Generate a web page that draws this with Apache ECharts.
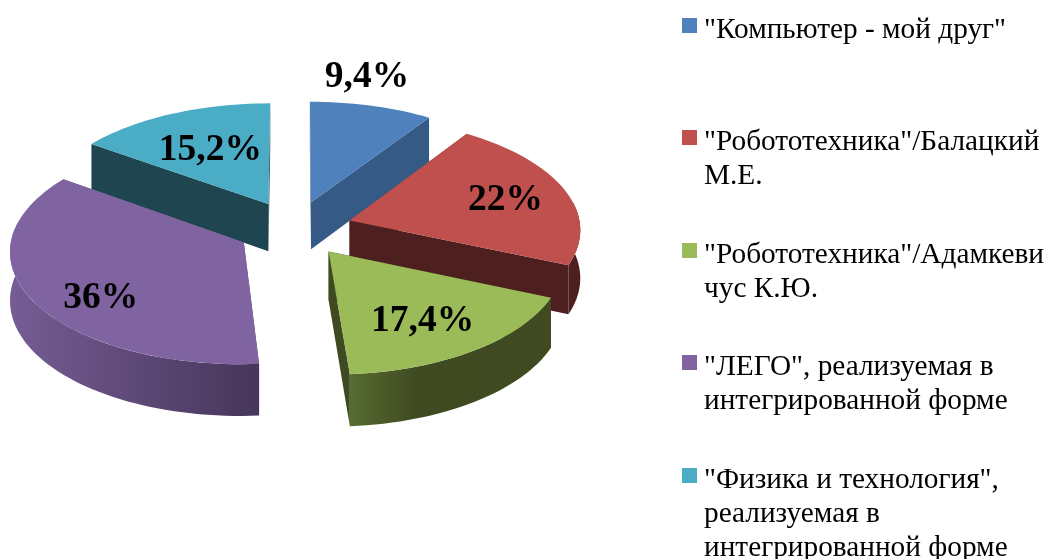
<!DOCTYPE html>
<html>
<head>
<meta charset="utf-8">
<style>
  html, body { margin: 0; padding: 0; background: #fff; }
  #chart { width: 1053px; height: 559px; }
</style>
<script src="https://cdn.jsdelivr.net/npm/echarts@6/dist/echarts.min.js"></script>
</head>
<body>
<div id="chart"></div>
<script>
const categories = [
  '"Компьютер - мой друг"',
  '"Робототехника"/Балацкий\nМ.Е.',
  '"Робототехника"/Адамкеви\nчус К.Ю.',
  '"ЛЕГО", реализуемая в\nинтегрированной форме',
  '"Физика и технология",\nреализуемая в\nинтегрированной форме'
];
const shares = [9.4, 22, 17.4, 36, 15.2];
const shareLabels = ['9,4%', '22%', '17,4%', '36%', '15,2%'];

const topColors = ['#4f81bd', '#c0504d', '#9bbb59', '#8064a2', '#4bacc6'];
const edgeColors = ['#355a85', '#4e1f1f', '#3f4a21', '#5a4676', '#1f4550'];
const wallStops = [
  ['#355a85', '#355a85'],
  ['#4e1f1f', '#4e1f1f'],
  ['#566b30', '#3f4a21', '#3f4a21', '#404a22'],
  ['#765c94', '#46365a'],
  ['#1f4550', '#1f4550']
];
// label position relative to the tip of its slice
const labelOffsets = [[56, -125], [156, -20], [94, 70], [-143, 56], [-58, -54]];
const legendIconCenters = [25.5, 137.5, 250.5, 362.5, 475.5];
const drawOrder = [4, 0, 1, 3, 2];

const cx = 294.5, cy = 228.5, rx = 231, ry = 112, persp = 0.07, depth = 48, explode = 0.25;
const lineH = 34;

const total = shares.reduce((a, b) => a + b, 0);
const starts = [];
shares.reduce((acc, v, i) => { starts[i] = acc; return acc + v / total * 360; }, 0);

// disc coords -> screen, near side (v > 0) comes out a bit bigger
function project(u, v, drop) {
  const s = 1 + persp * v;
  return [cx + rx * u * s, cy + ry * v * s + (drop || 0) * s];
}
function dir(deg) {
  const a = deg * Math.PI / 180;
  return [Math.sin(a), -Math.cos(a)];
}
function arc(i, from, to, drop) {
  const m = dir(starts[i] + shares[i] / total * 180);
  const pts = [];
  const n = Math.max(2, Math.ceil((to - from) / 2));
  for (let k = 0; k <= n; k++) {
    const d = dir(from + (to - from) * k / n);
    pts.push(project(d[0] + m[0] * explode, d[1] + m[1] * explode, drop));
  }
  return pts;
}
function renderSlice(i) {
  const a1 = starts[i], a2 = a1 + shares[i] / total * 360;
  const m = dir((a1 + a2) / 2);
  const apex = project(m[0] * explode, m[1] * explode, 0);
  const apexLow = project(m[0] * explode, m[1] * explode, depth);
  const rim = arc(i, a1, a2, 0);
  const rimLow = arc(i, a1, a2, depth);
  const children = [];

  [[rim[0], rimLow[0]], [rim[rim.length - 1], rimLow[rimLow.length - 1]]].forEach(e => {
    children.push({
      type: 'polygon',
      shape: { points: [apex, e[0], e[1], apexLow] },
      style: { fill: edgeColors[i] }
    });
  });

  const f = Math.max(a1, 80), t = Math.min(a2, 280);
  if (t > f) {
    const w1 = arc(i, f, t, 0), w2 = arc(i, f, t, depth).reverse();
    const s = wallStops[i];
    children.push({
      type: 'polygon',
      shape: { points: w1.concat(w2) },
      style: {
        fill: new echarts.graphic.LinearGradient(0, 0, 1, 0,
          s.map((c, k) => ({ offset: k / (s.length - 1), color: c })))
      }
    });
  }

  children.push({
    type: 'polygon',
    shape: { points: [apex].concat(rim) },
    style: { fill: topColors[i] }
  });
  children.push({
    type: 'text',
    z2: 10,
    style: {
      text: shareLabels[i],
      x: apex[0] + labelOffsets[i][0],
      y: apex[1] + labelOffsets[i][1],
      align: 'center',
      verticalAlign: 'middle',
      fill: '#000',
      font: 'bold 37.5px "Liberation Serif"'
    }
  });
  return { type: 'group', children };
}

const chart = echarts.init(document.getElementById('chart'));
chart.setOption({
  animation: false,
  backgroundColor: '#fff',
  legend: categories.map((name, i) => {
    const n = name.split('\n').length;
    return {
      data: [name],
      left: 682,
      top: legendIconCenters[i] + 4.5 - (2 * n - 1) * lineH / 2,
      padding: 0,
      itemWidth: 15,
      itemHeight: 24,
      // square sits at the top of the taller item box, so it rides above the text centre
      icon: 'path://M0 0H15V15H0Z M0 24H15V24H0Z',
      selectedMode: false,
      // blank lines on top keep the icon level with the first line
      formatter: t => '\n'.repeat(n - 1) + t,
      textStyle: {
        fontFamily: 'Liberation Serif',
        fontSize: 29.3,
        lineHeight: lineH,
        padding: [0, 0, 0, 2],
        color: '#000'
      }
    };
  }),
  series: drawOrder.map(i => ({
    type: 'custom',
    name: categories[i],
    coordinateSystem: 'none',
    silent: true,
    itemStyle: { color: topColors[i] },
    data: [shares[i]],
    renderItem: () => renderSlice(i)
  }))
});
</script>
</body>
</html>
